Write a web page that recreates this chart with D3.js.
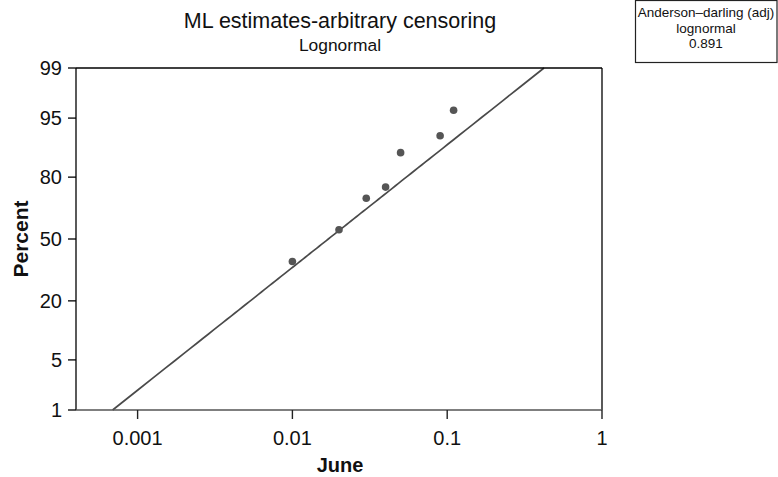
<!DOCTYPE html>
<html>
<head>
<meta charset="utf-8">
<script src="https://cdn.jsdelivr.net/npm/d3@7"></script>
<style>
  html, body { margin: 0; padding: 0; background: #fff; }
  svg { display: block; font-family: "Liberation Sans", Arial, Helvetica, sans-serif; }
</style>
</head>
<body>
<svg id="chart" width="778" height="477"></svg>
<script>
// Observed failure times (June) and their plotting positions (percent)
const juneValues = [0.01, 0.02, 0.03, 0.04, 0.05, 0.09, 0.11];
const percentValues = [38, 55, 71, 76, 88, 92, 96];

// Lognormal ML fit (natural-log location and scale)
const fitLocation = -4.071;
const fitScale = 1.379;

// Axis tick labels
const percentTicks = [1, 5, 20, 50, 80, 95, 99];
const juneTicks = [0.001, 0.01, 0.1, 1];
const juneDomain = [0.0004, 1];

const goodness = ["Anderson\u2013darling (adj)", "lognormal", "0.891"];

// Inverse standard normal CDF (Acklam's rational approximation)
function normInv(p) {
  const a = [-3.969683028665376e+01, 2.209460984245205e+02, -2.759285104469687e+02,
             1.383577518672690e+02, -3.066479806614716e+01, 2.506628277459239e+00];
  const b = [-5.447609879822406e+01, 1.615858368580409e+02, -1.556989798598866e+02,
             6.680131188771972e+01, -1.328068155288572e+01];
  const c = [-7.784894002430293e-03, -3.223964580411365e-01, -2.400758277161838e+00,
             -2.549732539343734e+00, 4.374664141464968e+00, 2.938163982698783e+00];
  const d = [7.784695709041462e-03, 3.224671290700398e-01, 2.445134137142996e+00,
             3.754408661907416e+00];
  const pl = 0.02425, ph = 1 - pl;
  let q, r;
  if (p < pl) {
    q = Math.sqrt(-2 * Math.log(p));
    return (((((c[0]*q+c[1])*q+c[2])*q+c[3])*q+c[4])*q+c[5]) /
           ((((d[0]*q+d[1])*q+d[2])*q+d[3])*q+1);
  }
  if (p <= ph) {
    q = p - 0.5; r = q * q;
    return (((((a[0]*r+a[1])*r+a[2])*r+a[3])*r+a[4])*r+a[5])*q /
           (((((b[0]*r+b[1])*r+b[2])*r+b[3])*r+b[4])*r+1);
  }
  q = Math.sqrt(-2 * Math.log(1 - p));
  return -(((((c[0]*q+c[1])*q+c[2])*q+c[3])*q+c[4])*q+c[5]) /
          ((((d[0]*q+d[1])*q+d[2])*q+d[3])*q+1);
}

const svg = d3.select("#chart");
const margin = { left: 76, right: 176, top: 68, bottom: 67 };
const W = 778, H = 477;
const x0 = margin.left, x1 = W - margin.right;
const y0 = H - margin.bottom, y1 = margin.top;

const x = d3.scaleLog().domain(juneDomain).range([x0, x1]);
// Probability scale: percent mapped through the normal quantile
const zScale = d3.scaleLinear()
  .domain([normInv(0.01), normInv(0.99)])
  .range([y0, y1]);
const y = p => zScale(normInv(p / 100));

const ink = "#4a4a4a";

// Fitted line across the full percent range
const pLo = 0.01, pHi = 0.99;
const lineX = p => Math.exp(fitLocation + fitScale * normInv(p));
const fitPts = d3.range(0, 101).map(i => {
  const p = pLo + (pHi - pLo) * i / 100;
  return [lineX(p), p * 100];
}).filter(d => d[0] >= juneDomain[0] && d[0] <= juneDomain[1]);

svg.append("path")
  .datum(fitPts)
  .attr("fill", "none")
  .attr("stroke", ink)
  .attr("stroke-width", 1.7)
  .attr("d", d3.line().x(d => x(d[0])).y(d => y(d[1])));

// Data points
svg.append("g").selectAll("circle")
  .data(juneValues.map((v, i) => [v, percentValues[i]]))
  .join("circle")
  .attr("cx", d => x(d[0]))
  .attr("cy", d => y(d[1]))
  .attr("r", 3.8)
  .attr("fill", "#555");

// Plot frame
svg.append("line").attr("x1", x0).attr("x2", x1).attr("y1", y1).attr("y2", y1)
  .attr("stroke", "#000").attr("stroke-width", 1.3);
svg.append("line").attr("x1", x1).attr("x2", x1).attr("y1", y1).attr("y2", y0)
  .attr("stroke", "#000").attr("stroke-width", 1.3);

// Left axis
const yAxis = svg.append("g").attr("transform", `translate(${x0},0)`);
yAxis.append("line").attr("x1", 0).attr("x2", 0).attr("y1", y1).attr("y2", y0)
  .attr("stroke", "#000").attr("stroke-width", 1.3);
const yt = yAxis.selectAll("g.tick").data(percentTicks).join("g")
  .attr("class", "tick")
  .attr("transform", d => `translate(0,${y(d)})`);
yt.append("line").attr("x1", -8).attr("x2", 0).attr("stroke", "#000").attr("stroke-width", 1.3);
yt.append("text").attr("x", -14).attr("dy", "0.36em")
  .attr("text-anchor", "end")
  .attr("font-size", 20).attr("fill", "#111")
  .text(d => d);

// Bottom axis
const xAxis = svg.append("g").attr("transform", `translate(0,${y0})`);
xAxis.append("line").attr("x1", x0).attr("x2", x1).attr("y1", 0).attr("y2", 0)
  .attr("stroke", "#555").attr("stroke-width", 1.6);
const xt = xAxis.selectAll("g.tick").data(juneTicks).join("g")
  .attr("class", "tick")
  .attr("transform", d => `translate(${x(d)},0)`);
xt.append("line").attr("y1", 0).attr("y2", 9).attr("stroke", "#222").attr("stroke-width", 1.4);
xt.append("text").attr("y", 35)
  .attr("text-anchor", "middle")
  .attr("font-size", 20).attr("fill", "#111")
  .text(d => d3.format("~g")(d));

// Axis titles
svg.append("text")
  .attr("x", (x0 + x1) / 2 + 1).attr("y", 472)
  .attr("text-anchor", "middle")
  .attr("font-size", 20).attr("font-weight", "bold").attr("fill", "#111")
  .text("June");
svg.append("text")
  .attr("transform", `translate(28,${(y0 + y1) / 2}) rotate(-90)`)
  .attr("text-anchor", "middle")
  .attr("font-size", 21).attr("font-weight", "bold").attr("fill", "#111")
  .text("Percent");

// Titles
svg.append("text")
  .attr("x", (x0 + x1) / 2 + 1).attr("y", 28)
  .attr("text-anchor", "middle")
  .attr("font-size", 21.5).attr("fill", "#111")
  .text("ML estimates-arbitrary censoring");
svg.append("text")
  .attr("x", (x0 + x1) / 2 + 1).attr("y", 51)
  .attr("text-anchor", "middle")
  .attr("font-size", 17.4).attr("fill", "#111")
  .text("Lognormal");

// Goodness-of-fit box
const box = svg.append("g");
box.append("rect")
  .attr("x", 635.5).attr("y", 0.5).attr("width", 141.5).attr("height", 62)
  .attr("fill", "#fff").attr("stroke", "#222").attr("stroke-width", 1.2);
box.selectAll("text").data(goodness).join("text")
  .attr("x", 706)
  .attr("y", (d, i) => 17 + i * 15.5)
  .attr("text-anchor", "middle")
  .attr("font-size", 13.5).attr("fill", "#111")
  .text(d => d);
</script>
</body>
</html>
